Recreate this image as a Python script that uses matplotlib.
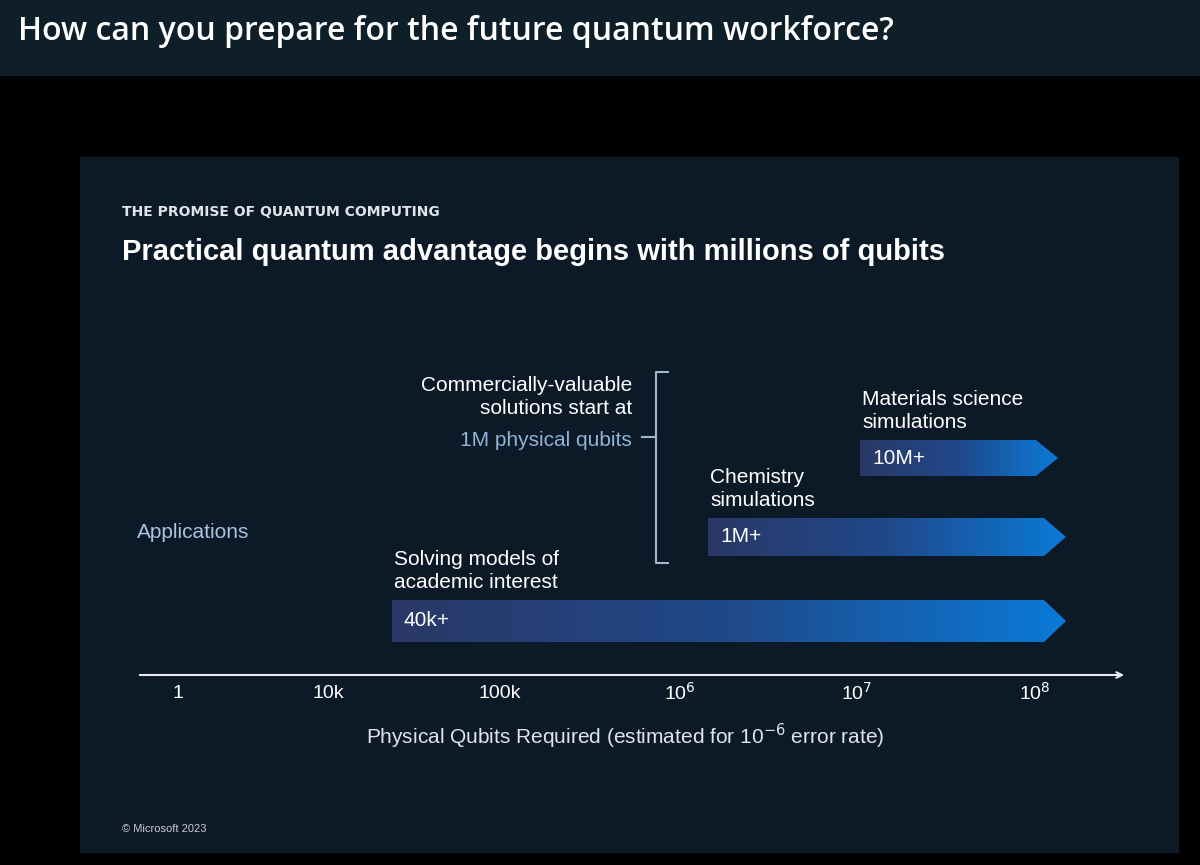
import numpy as np
import matplotlib.pyplot as plt
from matplotlib.patches import Rectangle, Polygon
from matplotlib.colors import LinearSegmentedColormap

plt.rcParams['font.family'] = ['Liberation Sans Narrow', 'Liberation Sans', 'DejaVu Sans']

# axis ticks (pixel positions, labels as shown)
tick_labels = ['1', '10k', '100k', '10$^6$', '10$^7$', '10$^8$']
tick_pos = [178, 328, 500, 680, 857, 1035]

# application bars: start, end, top, bottom, label, caption
bar_names = ['Solving models of\nacademic interest', 'Chemistry\nsimulations', 'Materials science\nsimulations']
bar_labels = ['40k+', '1M+', '10M+']
bar_start = [392, 708, 860]
bar_end = [1066, 1066, 1058]
bar_top = [600, 518, 440]
bar_bottom = [642, 556, 476]

fig = plt.figure(figsize=(12, 8.65), dpi=100)
fig.patch.set_facecolor('black')
ax = fig.add_axes([0, 0, 1, 1])
ax.set_xlim(0, 1200)
ax.set_ylim(865, 0)
ax.axis('off')

# header and slide panel
ax.add_patch(Rectangle((0, 0), 1200, 75, color='#0e1f2a', zorder=0))
ax.text(18, 32, 'How can you prepare for the future quantum workforce?', color='white',
        fontsize=23, va='center', fontweight='semibold', family=['Open Sans', 'DejaVu Sans'])
ax.add_patch(Rectangle((80, 157), 1098, 695, color='#0c1a28', zorder=0))

ax.text(122, 212, 'THE PROMISE OF QUANTUM COMPUTING', color='#e0e4ea', fontsize=10,
        fontweight='bold', va='center', family=['DejaVu Sans'])
ax.text(122, 252, 'Practical quantum advantage begins with millions of qubits', color='white',
        fontsize=21, fontweight='bold', va='center')
ax.text(137, 532, 'Applications', color='#a9c3dd', fontsize=15, va='center')

cmap = LinearSegmentedColormap.from_list('bar', ['#2a3866', '#20498a', '#0a7ad8'])
grad = np.linspace(0, 1, 256).reshape(1, -1)
for x0, x1, y0, y1, lab, name in zip(bar_start, bar_end, bar_top, bar_bottom, bar_labels, bar_names):
    tip = x1 - 22
    poly = Polygon([(x0, y0), (tip, y0), (x1, (y0 + y1) / 2), (tip, y1), (x0, y1)],
                   closed=True, facecolor='none', edgecolor='none')
    ax.add_patch(poly)
    im = ax.imshow(grad, cmap=cmap, extent=(x0, x1, y1, y0), aspect='auto', zorder=2)
    im.set_clip_path(poly)
    ax.text(x0 + 12, (y0 + y1) / 2, lab, color='white', fontsize=15, va='center', zorder=3)
    ax.text(x0 + 2, y0 - 8, name, color='white', fontsize=15, va='bottom', linespacing=1.25)

# bracket for commercially-valuable note
ax.plot([668, 656, 656, 668], [372, 372, 563, 563], color='#9fb7c8', lw=1.5)
ax.plot([642, 656], [437, 437], color='#9fb7c8', lw=1.5)
ax.text(632, 376, 'Commercially-valuable\nsolutions start at', color='white', fontsize=15,
        ha='right', va='top', linespacing=1.3)
ax.text(632, 440, '1M physical qubits', color='#8fb4d6', fontsize=15, ha='right', va='center')

# x axis
ax.annotate('', xy=(1127, 675), xytext=(137, 675),
            arrowprops=dict(arrowstyle='->', color='#e8ecf0', lw=1.5))
for p, t in zip(tick_pos, tick_labels):
    ax.text(p, 693, t, color='white', fontsize=14, ha='center', va='center')
ax.text(625, 736, 'Physical Qubits Required (estimated for 10$^{-6}$ error rate)', color='#e0e4ea',
        fontsize=15, ha='center', va='center')
ax.text(122, 829, '© Microsoft 2023', color='#c8ccd2', fontsize=8, va='center')

fig.savefig('out.png', dpi=100, facecolor=fig.get_facecolor())
